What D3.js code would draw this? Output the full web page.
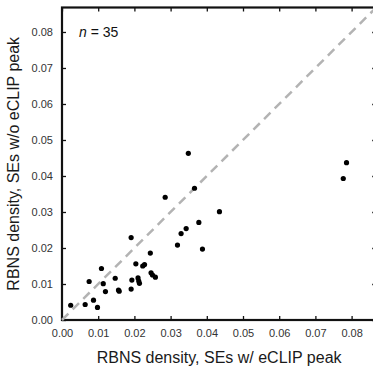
<!DOCTYPE html>
<html>
<head>
<meta charset="utf-8">
<script src="https://cdn.jsdelivr.net/npm/d3@7"></script>
<style>
body { margin: 0; background: #fff; }
</style>
</head>
<body>
<script>
// RBNS density of SEs with eCLIP peak (x) vs without (y)
var xVals = [0.0024, 0.0064, 0.0075, 0.0087, 0.0098, 0.0109, 0.0114, 0.0120, 0.0147, 0.0158,
             0.0156, 0.0191, 0.0191, 0.0193, 0.0204, 0.0210, 0.0212, 0.0214, 0.0223, 0.0228,
             0.0244, 0.0246, 0.0250, 0.0258, 0.0285, 0.0319, 0.0329, 0.0343, 0.0366, 0.0378,
             0.0388, 0.0435, 0.0349, 0.0786, 0.0777];
var yVals = [0.0041, 0.0043, 0.0107, 0.0055, 0.0035, 0.0143, 0.0101, 0.0079, 0.0116, 0.0080,
             0.0083, 0.0229, 0.0086, 0.0111, 0.0156, 0.0117, 0.0108, 0.0102, 0.0150, 0.0154,
             0.0186, 0.0131, 0.0125, 0.0119, 0.0341, 0.0208, 0.0240, 0.0254, 0.0366, 0.0271,
             0.0197, 0.0301, 0.0463, 0.0437, 0.0393];
var tickVals = [0, 0.01, 0.02, 0.03, 0.04, 0.05, 0.06, 0.07, 0.08];
var xLabel = "RBNS density, SEs w/ eCLIP peak";
var yLabel = "RBNS density, SEs w/o eCLIP peak";
var nLabel = "35";

var w = 373;
var h = 373;
var padLeft = 62, padTop = 7.5, padBottom = 320;

var svg = d3.select("body")
	.append("svg")
	.attr("width", w)
	.attr("height", h)
	.style("font-family", "'Liberation Sans', Arial, sans-serif");

var x = d3.scaleLinear().domain([0, 0.0868]).range([padLeft, padLeft + 0.0868 * 3620]);
var y = d3.scaleLinear().domain([0, 0.0868]).range([padBottom, padTop]);
var padRight = x(0.0868);

var fmt = d3.format(".2f");

//axes with inward ticks
function styleAxis(g) {
	g.select(".domain").remove();
	g.selectAll(".tick line").attr("stroke", "#111").attr("stroke-width", 1.3);
	g.selectAll(".tick text").attr("fill", "#333").attr("font-size", "11px")
		.attr("font-family", "'Liberation Sans', Arial, sans-serif");
}

svg.append("g")
	.attr("transform", "translate(0," + padBottom + ")")
	.call(d3.axisBottom(x).tickValues(tickVals).tickFormat(fmt).tickSizeInner(-4).tickSizeOuter(0).tickPadding(9))
	.call(styleAxis);

svg.append("g")
	.attr("transform", "translate(0," + padTop + ")")
	.call(d3.axisTop(x).tickValues(tickVals).tickFormat("").tickSizeInner(-4).tickSizeOuter(0))
	.call(styleAxis);

svg.append("g")
	.attr("transform", "translate(" + padLeft + ",0)")
	.call(d3.axisLeft(y).tickValues(tickVals).tickFormat(fmt).tickSizeInner(-4).tickSizeOuter(0).tickPadding(9))
	.call(styleAxis);

svg.append("g")
	.attr("transform", "translate(" + padRight + ",0)")
	.call(d3.axisRight(y).tickValues(tickVals).tickFormat("").tickSizeInner(-4).tickSizeOuter(0))
	.call(styleAxis);

// frame
svg.append("rect")
	.attr("x", padLeft)
	.attr("y", padTop)
	.attr("width", padRight - padLeft)
	.attr("height", padBottom - padTop)
	.attr("fill", "none")
	.attr("stroke", "#111")
	.attr("stroke-width", 2.2);

// y = x reference
svg.append("line")
	.attr("x1", x(0))
	.attr("y1", y(0))
	.attr("x2", x(0.0868))
	.attr("y2", y(0.0868))
	.attr("stroke", "#b3b3b3")
	.attr("stroke-width", 2.5)
	.attr("stroke-dasharray", "9,6");

svg.selectAll("circle")
	.data(xVals)
	.enter()
	.append("circle")
	.attr("cx", function(d) { return x(d); })
	.attr("cy", function(d, i) { return y(yVals[i]); })
	.attr("r", 2.6)
	.attr("fill", "#000");

var nt = svg.append("text")
	.attr("x", 79)
	.attr("y", 37)
	.attr("font-size", "14px")
	.attr("fill", "#111");
nt.append("tspan").attr("font-style", "italic").text("n");
nt.append("tspan").text(" = " + nLabel);

svg.append("text")
	.attr("x", (padLeft + padRight) / 2)
	.attr("y", 363)
	.attr("text-anchor", "middle")
	.attr("font-size", "16px")
	.attr("fill", "#1a1a1a")
	.text(xLabel);

svg.append("text")
	.attr("transform", "translate(19," + (padTop + padBottom) / 2 + ") rotate(-90)")
	.attr("text-anchor", "middle")
	.attr("font-size", "16px")
	.attr("fill", "#1a1a1a")
	.text(yLabel);
</script>
</body>
</html>
